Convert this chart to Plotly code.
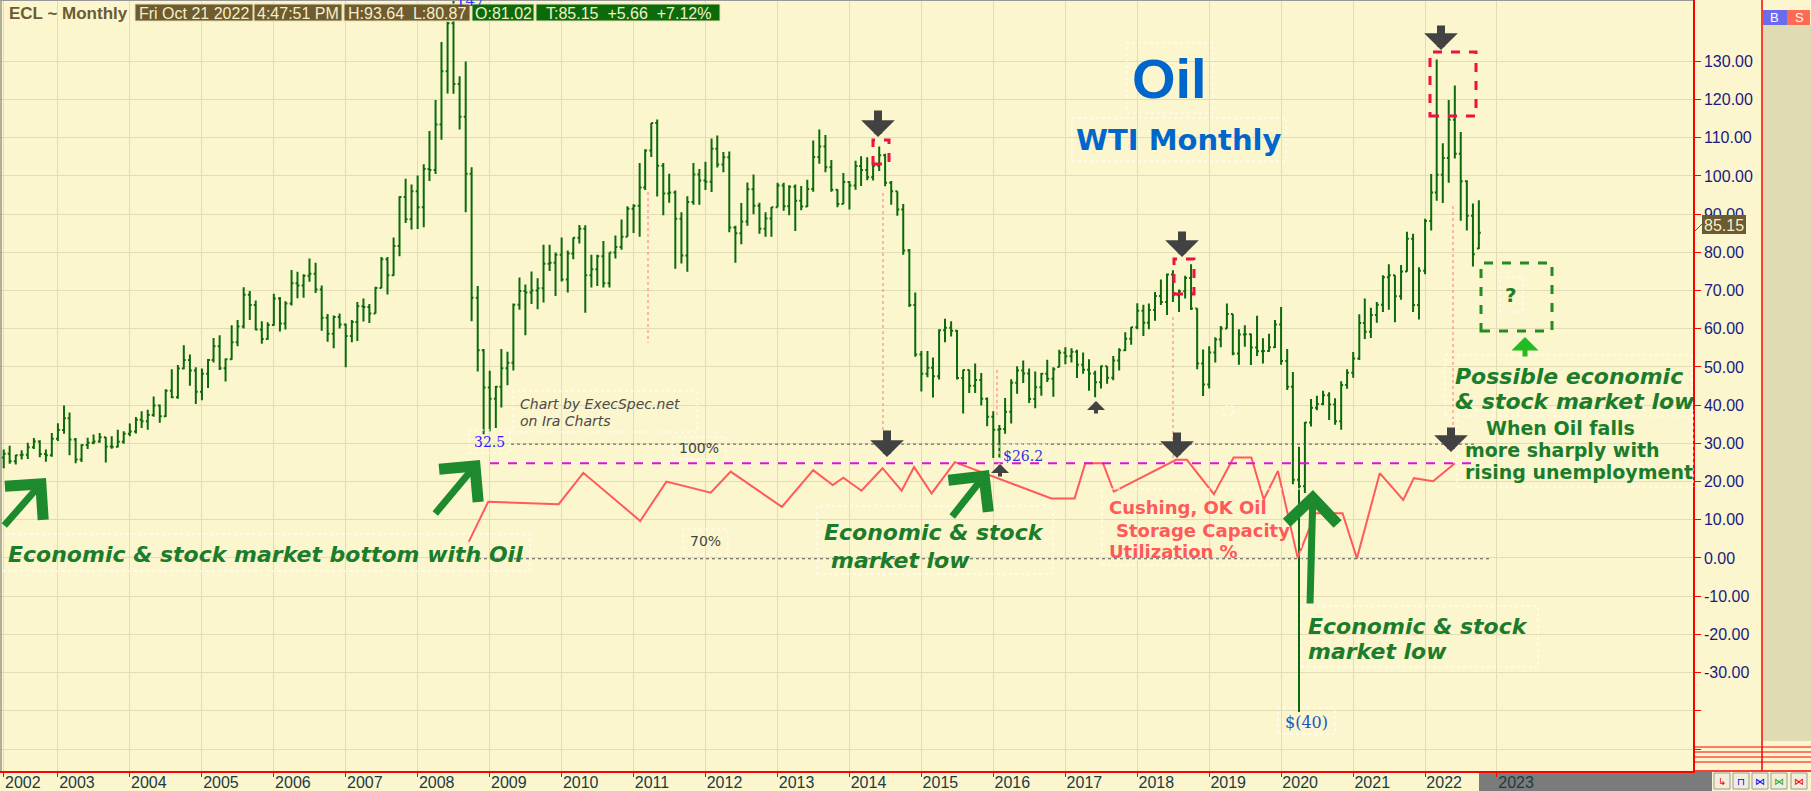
import pandas as pd
import plotly.graph_objects as go

# === DONNÉES ===
# barres mensuelles WTI, avril 2002 -> octobre 2022
months = pd.date_range("2002-04-01", "2022-10-01", freq="MS")

opens = [
    26.3, 27.3, 25.3, 26.9, 27.0, 29.0, 30.5, 27.2, 26.9,
    31.2, 33.5, 36.6, 31.0, 25.8, 29.6, 30.2, 30.5, 31.6, 29.2, 29.1, 30.4,
    32.5, 33.1, 36.2, 35.8, 37.4, 39.9, 37.1, 43.8, 42.1, 49.6, 51.8, 49.1,
    43.5, 48.2, 51.8, 55.4, 49.7, 52.0, 56.5, 60.6, 68.9, 66.2, 59.8, 57.3,
    61.0, 67.9, 61.4, 66.6, 71.9, 71.3, 73.9, 74.4, 70.3, 62.9, 58.7, 63.1,
    61.1, 58.1, 61.8, 65.9, 65.7, 64.0, 70.7, 78.2, 74.0, 81.7, 94.5, 88.7,
    96.0, 91.8, 101.8, 101.6, 113.5, 127.4, 140.0, 124.1, 115.5, 100.6, 68.1, 54.4,
    44.6, 41.7, 44.8, 49.7, 51.1, 66.3, 69.9, 69.5, 70.0, 70.6, 77.0, 77.3,
    79.4, 72.9, 79.7, 83.8, 86.2, 74.0, 75.6, 79.0, 71.9, 80.0, 81.4, 84.1,
    91.4, 92.2, 97.0, 106.7, 113.9, 102.7, 95.4, 95.7, 88.8, 79.2, 93.2, 100.4,
    98.8, 98.5, 107.1, 103.0, 104.9, 86.5, 85.0, 88.1, 96.5, 92.2, 86.2, 88.9,
    91.8, 97.5, 92.1, 97.2, 93.5, 92.0, 96.6, 105.0, 107.7, 102.3, 96.4, 92.7,
    98.4, 97.5, 102.6, 101.6, 99.7, 102.7, 105.4, 98.2, 96.0, 91.2, 80.5, 66.2,
    53.3, 48.2, 49.8, 47.6, 59.6, 60.3, 59.5, 47.1, 49.2, 45.1, 46.6, 41.7,
    37.0, 33.6, 33.8, 38.3, 45.9, 49.1, 48.3, 41.6, 44.7, 48.2, 46.9, 50.0,
    53.7, 52.8, 54.0, 50.6, 49.3, 48.3, 46.0, 50.2, 47.2, 51.7, 54.4, 57.4,
    60.4, 64.7, 61.6, 64.9, 68.6, 67.0, 74.2, 68.8, 69.8, 73.3, 65.3, 50.9,
    45.4, 53.8, 57.2, 60.1, 63.9, 53.5, 58.5, 58.6, 55.1, 54.1, 54.2, 55.2,
    61.1, 51.6, 44.8, 20.5, 18.8, 35.5, 39.3, 40.3, 42.6, 40.2, 35.8, 45.3,
    48.5, 52.2, 61.5, 59.2, 63.6, 66.3, 73.5, 74.0, 68.5, 75.0, 83.6, 66.2,
    75.2, 88.2, 95.7, 100.3, 104.7, 114.7, 105.8, 98.6, 89.6, 81.02,
]
highs = [
    28.4, 29.4, 27.0, 28.2, 30.2, 31.4, 30.8, 28.4, 32.7,
    35.3, 39.9, 38.1, 31.4, 29.8, 31.5, 32.3, 32.7, 31.7, 31.9, 33.6, 33.2,
    35.2, 36.9, 38.4, 38.8, 42.3, 40.2, 44.2, 49.4, 50.5, 55.7, 53.3, 49.9,
    49.6, 52.1, 57.6, 58.3, 52.2, 60.9, 62.3, 70.9, 69.9, 67.4, 62.0, 61.7,
    69.2, 68.3, 67.2, 75.4, 74.9, 74.3, 78.4, 77.3, 71.3, 63.9, 63.5, 64.0,
    61.4, 62.3, 67.0, 67.9, 66.5, 71.0, 78.8, 78.8, 83.9, 94.7, 99.3, 97.8,
    100.1, 103.1, 111.8, 119.9, 135.1, 140.4, 147.3, 126.1, 130.0, 102.3, 71.2, 54.7,
    49.0, 45.0, 54.7, 54.0, 66.6, 73.4, 71.6, 75.0, 73.2, 82.0, 82.0, 80.0,
    83.9, 80.5, 83.9, 87.2, 87.1, 79.4, 79.4, 83.0, 80.0, 84.4, 88.6, 92.1,
    92.6, 103.4, 107.0, 113.9, 114.8, 103.4, 100.6, 96.2, 90.5, 94.7, 103.4, 101.8,
    103.7, 109.8, 110.6, 106.3, 106.4, 87.0, 92.9, 98.3, 100.4, 93.0, 90.5, 91.9,
    98.2, 98.2, 97.6, 97.8, 97.4, 99.0, 109.3, 112.2, 110.7, 104.2, 96.5, 100.8,
    98.6, 104.0, 105.2, 104.9, 104.2, 107.7, 105.8, 98.7, 96.0, 92.7, 80.9, 69.5,
    54.2, 54.2, 52.5, 59.9, 62.6, 62.0, 59.7, 49.3, 49.3, 50.9, 48.4, 42.0,
    38.4, 34.8, 41.9, 46.8, 50.2, 51.7, 49.6, 48.8, 48.4, 51.9, 49.9, 54.5,
    55.2, 54.9, 54.5, 53.8, 52.0, 49.0, 50.4, 50.2, 52.9, 54.9, 59.1, 60.5,
    66.7, 66.3, 66.6, 69.6, 72.9, 74.5, 75.3, 70.3, 73.9, 76.9, 65.4, 54.6,
    55.4, 57.8, 60.7, 66.6, 63.9, 59.9, 60.9, 58.8, 63.4, 57.5, 58.7, 62.3,
    65.7, 54.7, 48.7, 29.1, 35.6, 41.6, 42.5, 43.8, 43.4, 41.8, 46.3, 49.4,
    53.9, 63.8, 67.9, 65.5, 67.0, 74.0, 76.9, 74.0, 76.7, 85.4, 84.9, 76.1,
    88.8, 100.5, 130.5, 108.6, 119.9, 123.7, 111.5, 98.9, 92.8, 93.64,
]
lows = [
    23.5, 24.7, 24.5, 25.8, 25.9, 28.5, 26.4, 25.2, 26.5,
    30.6, 32.5, 26.9, 24.8, 25.1, 28.5, 29.8, 30.2, 25.0, 28.6, 28.9, 29.9,
    31.9, 32.6, 34.0, 33.6, 37.0, 35.4, 36.9, 41.8, 41.7, 49.4, 45.1, 40.3,
    41.3, 44.5, 51.2, 49.2, 46.2, 51.9, 55.4, 60.1, 62.3, 59.6, 56.1, 57.1,
    60.8, 59.3, 59.8, 66.1, 68.0, 68.1, 72.3, 69.4, 59.5, 56.6, 54.9, 60.1,
    49.9, 56.5, 56.8, 61.9, 61.5, 64.0, 70.6, 69.0, 73.9, 79.0, 87.7, 86.0,
    86.1, 86.6, 98.7, 100.5, 109.5, 121.6, 121.5, 112.2, 90.5, 62.0, 48.8, 32.4,
    33.2, 34.0, 39.4, 45.2, 49.1, 65.0, 58.3, 66.5, 65.1, 66.9, 75.1, 68.6,
    72.4, 69.5, 78.2, 82.3, 64.2, 70.8, 71.2, 70.8, 70.8, 78.4, 80.7, 84.1,
    85.1, 84.1, 96.3, 105.0, 94.6, 89.7, 93.0, 75.7, 77.1, 74.9, 92.5, 92.5,
    96.3, 95.8, 102.2, 101.0, 85.3, 77.3, 82.1, 87.0, 90.0, 84.9, 84.1, 84.1,
    91.8, 90.9, 89.7, 85.6, 91.0, 91.9, 95.9, 103.2, 101.0, 95.9, 91.8, 92.7,
    91.2, 96.4, 97.4, 98.9, 98.8, 101.3, 97.3, 92.5, 89.6, 79.4, 65.7, 52.7,
    43.6, 47.3, 42.0, 46.7, 56.5, 58.0, 46.7, 37.8, 43.2, 43.2, 39.9, 34.5,
    26.2, 26.1, 32.5, 35.2, 43.0, 45.8, 40.6, 39.2, 42.5, 46.1, 42.2, 49.9,
    50.7, 51.2, 47.1, 48.2, 43.8, 42.1, 44.4, 45.6, 46.5, 49.1, 54.2, 55.8,
    59.9, 58.1, 59.9, 62.1, 66.2, 63.6, 67.0, 64.4, 67.9, 64.9, 49.4, 42.4,
    44.4, 51.2, 55.2, 60.0, 53.1, 50.6, 55.3, 50.5, 52.9, 50.9, 54.0, 55.0,
    50.6, 44.0, 19.3, -40.3, 17.0, 34.4, 38.7, 40.0, 36.1, 34.9, 33.6, 44.3,
    47.2, 51.8, 57.3, 57.6, 61.6, 64.4, 65.0, 61.7, 67.6, 74.9, 64.4, 62.4,
    74.3, 85.7, 93.5, 92.9, 98.2, 104.6, 88.3, 85.7, 76.3, 80.87,
]
closes = [
    27.3, 25.3, 26.9, 27.0, 29.0, 30.5, 27.2, 26.9, 31.2,
    33.5, 36.6, 31.0, 25.8, 29.6, 30.2, 30.5, 31.6, 29.2, 29.1, 30.4, 32.5,
    33.1, 36.2, 35.8, 37.4, 39.9, 37.1, 43.8, 42.1, 49.6, 51.8, 49.1, 43.5,
    48.2, 51.8, 55.4, 49.7, 52.0, 56.5, 60.6, 68.9, 66.2, 59.8, 57.3, 61.0,
    67.9, 61.4, 66.6, 71.9, 71.3, 73.9, 74.4, 70.3, 62.9, 58.7, 63.1, 61.1,
    58.1, 61.8, 65.9, 65.7, 64.0, 70.7, 78.2, 74.0, 81.7, 94.5, 88.7, 96.0,
    91.8, 101.8, 101.6, 113.5, 127.4, 140.0, 124.1, 115.5, 100.6, 68.1, 54.4, 44.6,
    41.7, 44.8, 49.7, 51.1, 66.3, 69.9, 69.5, 70.0, 70.6, 77.0, 77.3, 79.4,
    72.9, 79.7, 83.8, 86.2, 74.0, 75.6, 79.0, 71.9, 80.0, 81.4, 84.1, 91.4,
    92.2, 97.0, 106.7, 113.9, 102.7, 95.4, 95.7, 88.8, 79.2, 93.2, 100.4, 98.8,
    98.5, 107.1, 103.0, 104.9, 86.5, 85.0, 88.1, 96.5, 92.2, 86.2, 88.9, 91.8,
    97.5, 92.1, 97.2, 93.5, 92.0, 96.6, 105.0, 107.7, 102.3, 96.4, 92.7, 98.4,
    97.5, 102.6, 101.6, 99.7, 102.7, 105.4, 98.2, 96.0, 91.2, 80.5, 66.2, 53.3,
    48.2, 49.8, 47.6, 59.6, 60.3, 59.5, 47.1, 49.2, 45.1, 46.6, 41.7, 37.0,
    33.6, 33.8, 38.3, 45.9, 49.1, 48.3, 41.6, 44.7, 48.2, 46.9, 49.4, 53.7,
    52.8, 54.0, 50.6, 49.3, 48.3, 46.0, 50.2, 47.2, 51.7, 54.4, 57.4, 60.4,
    64.7, 61.6, 64.9, 68.6, 67.0, 74.2, 68.8, 69.8, 73.3, 65.3, 50.9, 45.4,
    53.8, 57.2, 60.1, 63.9, 53.5, 58.5, 58.6, 55.1, 54.1, 54.2, 55.2, 61.1,
    51.6, 44.8, 20.5, 18.8, 35.5, 39.3, 40.3, 42.6, 40.2, 35.8, 45.3, 48.5,
    52.2, 61.5, 59.2, 63.6, 66.3, 73.5, 74.0, 68.5, 75.0, 83.6, 66.2, 75.2,
    88.2, 95.7, 100.3, 104.7, 114.7, 105.8, 98.6, 89.6, 79.5, 85.15,
]

# taux d'utilisation du stockage de Cushing (%)
storage_dates = [
    "2008-09-17", "2008-12-24", "2009-12-17", "2010-04-21", "2011-02-04",
    "2011-06-17", "2012-01-28", "2012-05-08", "2013-01-23", "2013-07-01",
    "2013-10-08", "2013-12-01", "2014-03-03", "2014-06-18", "2014-09-23",
    "2014-11-25", "2015-02-22", "2015-06-20", "2016-10-22", "2017-02-17",
    "2017-04-12", "2017-07-11", "2017-09-04", "2018-07-17", "2018-09-10",
    "2019-01-25", "2019-05-05", "2019-08-03", "2019-10-05", "2019-12-16",
    "2020-03-25", "2020-06-24", "2020-11-08", "2021-01-20", "2021-05-16",
    "2021-09-12", "2021-11-05", "2022-02-11", "2022-06-01",
]
storage_pct = [
    74.5, 84.9, 84.3, 92.5, 79.9, 90.2, 87.3, 92.8, 83.6, 93.2,
    89.3, 91.2, 87.8, 93.7, 87.8, 94.0, 87.1, 95.3, 85.8, 85.8,
    95.0, 95.0, 87.6, 95.9, 95.9, 86.9, 96.5, 96.5, 85.5, 93.0,
    70.3, 81.9, 81.9, 70.1, 92.4, 85.4, 91.1, 90.3, 95.0,
]
storage_levels = [100, 95, 70]

# axes
year_ticks = ["2002-04-01"] + [f"{y}-01-01" for y in range(2003, 2024)]
year_labels = ["2002", "2003", "2004", "2005", "2006", "2007", "2008", "2009",
               "2010", "2011", "2012", "2013", "2014", "2015", "2016", "2017",
               "2018", "2019", "2020", "2021", "2022", "2023"]
price_ticks = [-50, -40, -30, -20, -10, 0, 10, 20, 30, 40, 50, 60, 70, 80,
               90, 100, 110, 120, 130]
price_labels = ["", "", "-30.00", "-20.00", "-10.00", "0.00", "10.00", "20.00",
                "30.00", "40.00", "50.00", "60.00", "70.00", "80.00", "90.00",
                "100.00", "110.00", "120.00", "130.00"]

# === MISE EN PAGE ===
W, H = 1811, 791
PW, PH = 1693, 771          # zone de tracé (pixels)
Y_TOP, Y_BOT = 146.07, -55.76
PCT_SHIFT = 70.2            # 70 % aligné sur 0 $

BG = "#fbf6cd"
GRID = "#e3ddb5"
BAR = "#0b6b0b"
GREEN = "#1b7d2b"
RED_TXT = "#ff5a5a"
GREY_ARROW = "#424242"


def px(x):
    return x / PW


def py(y):
    return 1 - y / PH


def rect(x0, y0, x1, y1, color="white", width=1, dash="dot", fill="rgba(0,0,0,0)", layer="above"):
    return dict(type="rect", xref="paper", yref="paper",
                x0=px(x0), x1=px(x1), y0=py(y1), y1=py(y0),
                line=dict(color=color, width=width, dash=dash),
                fillcolor=fill, layer=layer)


def seg(x0, y0, x1, y1, color, width=1, dash="solid", layer="above"):
    return dict(type="line", xref="paper", yref="paper",
                x0=px(x0), x1=px(x1), y0=py(y0), y1=py(y1),
                line=dict(color=color, width=width, dash=dash), layer=layer)


def txt(x, y, text, size, color, family="DejaVu Sans", xanchor="left"):
    return dict(x=px(x), y=py(y), xref="paper", yref="paper", text=text,
                showarrow=False, xanchor=xanchor, yanchor="middle",
                font=dict(family=family, size=size, color=color))


def arrow(xt, yt, xs, ys, color, width, head, size):
    return dict(x=px(xt), y=py(yt), xref="paper", yref="paper",
                ax=xs - xt, ay=ys - yt, text="", showarrow=True,
                arrowcolor=color, arrowwidth=width, arrowhead=head,
                arrowsize=size, standoff=0)


fig = go.Figure()

fig.add_trace(go.Ohlc(
    x=months, open=opens, high=highs, low=lows, close=closes,
    increasing=dict(line=dict(color=BAR, width=2)),
    decreasing=dict(line=dict(color=BAR, width=2)),
    tickwidth=0.35, hoverinfo="skip", showlegend=False,
))

fig.add_trace(go.Scatter(
    x=storage_dates, y=storage_pct, yaxis="y2", mode="lines",
    line=dict(color="#ff5b5b", width=2), hoverinfo="skip", showlegend=False,
))

shapes = []
# lignes de référence 100 % / 95 % / 70 %
spans = {100: (511, 1475), 95: (490, 1477), 70: (478, 1490)}
for lvl in storage_levels:
    x0, x1 = spans[lvl]
    style = dict(color="#dd11dd", width=2, dash="dash") if lvl == 95 else dict(color="#555555", width=1, dash="dot")
    shapes.append(dict(type="line", xref="paper", yref="y2", x0=px(x0), x1=px(x1),
                       y0=lvl, y1=lvl, line=style, layer="above"))

# cadres rouges pointillés (sommets)
for b in [(873, 140, 889, 164), (1174, 259, 1194, 294), (1430, 52, 1476, 116)]:
    shapes.append(rect(*b, color="#ee1144", width=3, dash="dash"))
# cadre vert "?"
shapes.append(rect(1481, 263, 1552, 331, color="#228b22", width=3, dash="dash"))

# fins traits rouges verticaux
for x, y0, y1 in [(648, 192, 343), (883, 193, 433), (997, 370, 417), (1173, 317, 463), (1453, 206, 426)]:
    shapes.append(seg(x, y0, x, y1, "#ff7777", 1, "dot"))

# cadres blancs des étiquettes
for b in [(513, 391, 697, 432), (469, 430, 510, 453), (673, 437, 726, 459), (683, 529, 728, 554),
          (2, 534, 530, 571), (817, 506, 1053, 574), (999, 445, 1048, 467), (1102, 489, 1301, 565),
          (1278, 708, 1335, 734), (1301, 606, 1538, 667), (1445, 355, 1692, 416),
          (1457, 410, 1693, 487), (1500, 277, 1523, 312), (1127, 43, 1213, 113),
          (1072, 118, 1286, 161), (1223, 406, 1233, 415)]:
    shapes.append(rect(*b, color="white", width=1, dash="dot"))

# bordures, panneau de droite, barre du bas
shapes += [
    seg(1, 0, 1, PH, "#666666", 1),
    seg(0, 0.5, PW, 0.5, "#999999", 1),
    rect(1763, 25, 1811, 741, color="#dfdbb3", width=0, dash="solid", fill="#dfdbb3", layer="below"),
    seg(1762, 0, 1762, PH, "red", 1.5),
    seg(PW, PH, W, PH, "red", 1.5),
    rect(1479, 772, 1712, 791, color="#7b7b7b", width=0, dash="solid", fill="#7b7b7b", layer="below"),
    rect(1763, 10, 1787, 25, color="#6b6bee", width=0, dash="solid", fill="#6b6bee"),
    rect(1787, 10, 1810, 25, color="#ff6a55", width=0, dash="solid", fill="#ff6a55"),
    rect(1702, 215, 1746, 234, color="#6b5a32", width=0, dash="solid", fill="#6b5a32"),
    seg(PW, 233, 1702, 224, "#555555", 1),
]
for yy in [747, 752, 757, 762]:
    shapes.append(seg(PW, yy, W, yy, "red", 1))
for bx in [1714, 1733, 1752, 1771, 1791]:
    shapes.append(rect(bx, 773, bx + 16, 789, color="#999999", width=1, dash="solid", fill="#f2eedc", layer="below"))

# bandeau d'en-tête
head_boxes = [(135, 253, "#6e5b30"), (254, 342, "#6e5b30"), (344, 470, "#6e5b30"),
              (472, 534, "#0b6b0b"), (536, 720, "#0b6b0b")]
for x0, x1, c in head_boxes:
    shapes.append(rect(x0, 4, x1, 21, color="#e8dfb0", width=1, dash="solid", fill=c))

ann = []
ann.append(txt(471, 1, "147", 15, "#3333ff", "DejaVu Serif", "center"))
ann.append(txt(7, 13, "<b>ECL ~ Monthly</b>", 17, "#6b5a32", "Liberation Sans"))
for (x0, x1, _), t in zip(head_boxes, ["Fri Oct 21 2022", "4:47:51 PM", "H:93.64&nbsp;&nbsp;L:80.87",
                                       "O:81.02", "T:85.15&nbsp;&nbsp;+5.66&nbsp;&nbsp;+7.12%"]):
    ann.append(txt((x0 + x1) / 2, 13, t, 16, "#f5efc8", "Liberation Sans", "center"))

ann.append(txt(1799, 17.5, "S", 13, "white", "Liberation Sans", "center"))
ann.append(txt(1775, 17.5, "B", 13, "white", "Liberation Sans", "center"))
ann.append(txt(1724, 225, "85.15", 16, "#f5efc8", "Liberation Sans", "center"))
for bx, sym, c in zip([1714, 1733, 1752, 1771, 1791], ["↳", "⊓", "⋈", "⋈", "⋈"],
                      ["red", "blue", "blue", "#22aa22", "red"]):
    ann.append(txt(bx + 8, 781, sym, 10, c, "DejaVu Sans", "center"))

# titres
ann.append(txt(1169, 79, "<b>Oil</b>", 56, "#0066cc", "Liberation Sans", "center"))
ann.append(txt(1179, 140, "<b>WTI Monthly</b>", 29, "#0066cc", "DejaVu Sans", "center"))

# étiquettes de prix
ann.append(txt(489, 442, "32.5", 14, "#3a1aff", "DejaVu Serif", "center"))
ann.append(txt(1023, 456, "$26.2", 14, "#3333dd", "DejaVu Serif", "center"))
ann.append(txt(1306, 722, "$(40)", 16, "#2255cc", "DejaVu Serif", "center"))
ann.append(txt(699, 448, "100%", 14, "#444444", "DejaVu Sans", "center"))
ann.append(txt(705, 541, "70%", 14, "#444444", "DejaVu Sans", "center"))
ann.append(txt(1511, 295, "<b>?</b>", 20, GREEN, "DejaVu Sans", "center"))

ann.append(txt(518, 404, "<i>Chart by ExecSpec.net</i>", 14, "#4a4a4a"))
ann.append(txt(518, 421, "<i>on Ira Charts</i>", 14, "#4a4a4a"))

# commentaires verts
for x, y, t in [(6, 554, "Economic & stock market bottom with Oil"),
                (822, 532, "Economic & stock"), (829, 560, "market low"),
                (1306, 626, "Economic & stock"), (1306, 651, "market low"),
                (1453, 376, "Possible economic"), (1453, 401, "&amp; stock market low")]:
    ann.append(txt(x, y, f"<b><i>{t}</i></b>", 22, GREEN))
for x, y, t in [(1484, 428, "When Oil falls"), (1463, 450, "more sharply with"),
                (1463, 472, "rising unemployment")]:
    ann.append(txt(x, y, f"<b>{t}</b>", 19, GREEN))
for x, y, t in [(1107, 507, "Cushing, OK Oil"), (1114, 530, "Storage Capacity"),
                (1107, 551, "Utilization %")]:
    ann.append(txt(x, y, f"<b>{t}</b>", 18, RED_TXT))

# flèches
for xt, yt, ln in [(878, 137, 28), (887, 457, 28), (1182, 257, 27), (1177, 458, 27),
                   (1441, 50, 26), (1451, 452, 26)]:
    ann.append(arrow(xt, yt, xt, yt - ln, GREY_ARROW, 8, 1, 0.7))
for xt, yt, ln in [(1000, 464, 14), (1096, 401, 14)]:
    ann.append(arrow(xt, yt, xt, yt + ln, GREY_ARROW, 4, 1, 0.75))
for xt, yt, xs, ys in [(46, 478, 3, 527), (480, 460, 434, 515), (989, 470, 951, 518), (1313, 490, 1310, 605)]:
    ann.append(arrow(xt, yt, xs, ys, "#1e8a2e", 7, 4, 1.4))
ann.append(arrow(1525, 337, 1525, 358, "#22bb22", 5, 1, 0.9))

fig.update_layout(
    width=W, height=H, autosize=False,
    margin=dict(l=0, r=W - PW, t=0, b=H - PH),
    paper_bgcolor=BG, plot_bgcolor=BG,
    showlegend=False, shapes=shapes, annotations=ann,
    xaxis=dict(
        type="date", range=["2002-03-13", "2025-09-22"],
        tickmode="array", tickvals=year_ticks, ticktext=year_labels,
        ticks="outside", ticklen=4, tickcolor="red", ticklabelposition="outside right",
        ticklabelstandoff=-4,
        showline=True, linecolor="red", linewidth=1.5,
        showgrid=True, gridcolor=GRID, gridwidth=1, zeroline=False,
        tickfont=dict(family="Liberation Sans", size=16, color="#1d3a44"),
        rangeslider=dict(visible=False), automargin=False,
    ),
    yaxis=dict(
        side="right", range=[Y_BOT, Y_TOP],
        tickmode="array", tickvals=price_ticks, ticktext=price_labels,
        ticks="outside", ticklen=6, tickcolor="red",
        showline=True, linecolor="red", linewidth=1.5,
        showgrid=True, gridcolor=GRID, gridwidth=1, zeroline=False,
        tickfont=dict(family="Liberation Sans", size=16, color="#1a1a80"),
        automargin=False,
    ),
    yaxis2=dict(overlaying="y", range=[Y_BOT + PCT_SHIFT, Y_TOP + PCT_SHIFT],
                visible=False, showgrid=False),
)

fig.write_html("out.html", config={"displayModeBar": False},
               post_script="document.body.style.margin='0';")
